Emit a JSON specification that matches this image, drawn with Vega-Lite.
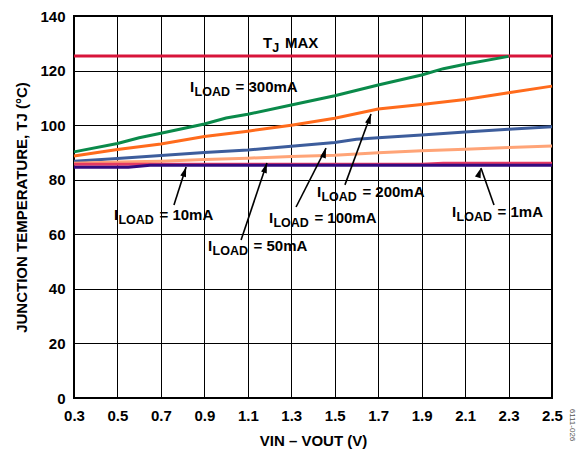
{
  "$schema": "https://vega.github.io/schema/vega-lite/v6.json",
  "width": 478,
  "height": 382,
  "autosize": {"type": "none"},
  "padding": {"left": 74, "top": 16, "right": 27, "bottom": 54},
  "background": "white",
  "config": {
    "font": "Liberation Sans",
    "view": {"stroke": "black", "strokeWidth": 2},
    "axis": {
      "labelFont": "Liberation Sans",
      "labelFontWeight": "bold",
      "labelFontSize": 15,
      "labelColor": "black",
      "titleFont": "Liberation Sans",
      "titleFontWeight": "bold",
      "titleFontSize": 15,
      "titleColor": "black",
      "ticks": false,
      "domain": false,
      "grid": true,
      "gridColor": "black",
      "gridWidth": 1,
      "gridOpacity": 1,
      "labelOverlap": false,
      "labelFlush": false
    }
  },
  "datasets": {
    "curves": [
      {"series": "TJMAX", "v": 0.3, "t": 125.3},
      {"series": "TJMAX", "v": 2.5, "t": 125.3},
      {"series": "300mA", "v": 0.3, "t": 90.2},
      {"series": "300mA", "v": 0.5, "t": 93.3},
      {"series": "300mA", "v": 0.6, "t": 95.4},
      {"series": "300mA", "v": 0.7, "t": 97.0},
      {"series": "300mA", "v": 0.9, "t": 100.4},
      {"series": "300mA", "v": 1.0, "t": 102.6},
      {"series": "300mA", "v": 1.1, "t": 104.0},
      {"series": "300mA", "v": 1.3, "t": 107.4},
      {"series": "300mA", "v": 1.5, "t": 110.8},
      {"series": "300mA", "v": 1.7, "t": 114.7},
      {"series": "300mA", "v": 1.9, "t": 118.4},
      {"series": "300mA", "v": 2.0, "t": 120.7},
      {"series": "300mA", "v": 2.1, "t": 122.3},
      {"series": "300mA", "v": 2.3, "t": 125.2},
      {"series": "200mA", "v": 0.3, "t": 88.7},
      {"series": "200mA", "v": 0.5, "t": 91.1},
      {"series": "200mA", "v": 0.7, "t": 93.1},
      {"series": "200mA", "v": 0.9, "t": 95.8},
      {"series": "200mA", "v": 1.1, "t": 97.8},
      {"series": "200mA", "v": 1.3, "t": 100.0},
      {"series": "200mA", "v": 1.5, "t": 102.5},
      {"series": "200mA", "v": 1.7, "t": 105.9},
      {"series": "200mA", "v": 1.9, "t": 107.6},
      {"series": "200mA", "v": 2.1, "t": 109.4},
      {"series": "200mA", "v": 2.3, "t": 111.9},
      {"series": "200mA", "v": 2.5, "t": 114.3},
      {"series": "100mA", "v": 0.3, "t": 86.8},
      {"series": "100mA", "v": 0.5, "t": 87.8},
      {"series": "100mA", "v": 0.7, "t": 88.9},
      {"series": "100mA", "v": 0.9, "t": 90.0},
      {"series": "100mA", "v": 1.1, "t": 90.9},
      {"series": "100mA", "v": 1.3, "t": 92.3},
      {"series": "100mA", "v": 1.5, "t": 93.6},
      {"series": "100mA", "v": 1.6, "t": 94.8},
      {"series": "100mA", "v": 1.7, "t": 95.4},
      {"series": "100mA", "v": 1.9, "t": 96.4},
      {"series": "100mA", "v": 2.1, "t": 97.5},
      {"series": "100mA", "v": 2.3, "t": 98.5},
      {"series": "100mA", "v": 2.5, "t": 99.4},
      {"series": "50mA", "v": 0.3, "t": 86.0},
      {"series": "50mA", "v": 0.5, "t": 86.5},
      {"series": "50mA", "v": 0.7, "t": 86.8},
      {"series": "50mA", "v": 0.9, "t": 87.4},
      {"series": "50mA", "v": 1.1, "t": 87.9},
      {"series": "50mA", "v": 1.3, "t": 88.5},
      {"series": "50mA", "v": 1.5, "t": 89.0},
      {"series": "50mA", "v": 1.7, "t": 89.9},
      {"series": "50mA", "v": 1.9, "t": 90.6},
      {"series": "50mA", "v": 2.1, "t": 91.2},
      {"series": "50mA", "v": 2.3, "t": 91.8},
      {"series": "50mA", "v": 2.5, "t": 92.4},
      {"series": "10mA", "v": 0.3, "t": 85.7},
      {"series": "10mA", "v": 0.7, "t": 85.7},
      {"series": "10mA", "v": 1.1, "t": 85.7},
      {"series": "10mA", "v": 1.5, "t": 85.7},
      {"series": "10mA", "v": 1.9, "t": 85.7},
      {"series": "10mA", "v": 2.0, "t": 86.0},
      {"series": "10mA", "v": 2.5, "t": 86.0},
      {"series": "1mA", "v": 0.3, "t": 84.6},
      {"series": "1mA", "v": 0.55, "t": 84.6},
      {"series": "1mA", "v": 0.65, "t": 85.3},
      {"series": "1mA", "v": 2.5, "t": 85.3}
    ],
    "labels": [
      {"v": 0.834, "t": 112.1, "rest": "= 300mA"},
      {"v": 1.418, "t": 73.7, "rest": "= 200mA"},
      {"v": 1.197, "t": 64.1, "rest": "= 100mA"},
      {"v": 0.917, "t": 53.9, "rest": "= 50mA"},
      {"v": 0.484, "t": 65.2, "rest": "= 10mA"},
      {"v": 2.040, "t": 66.3, "rest": "= 1mA"}
    ],
    "arrows": [
      {"label": "10mA", "v": 0.760, "t": 70.7, "v2": 0.816, "t2": 84.7},
      {"label": "50mA", "v": 1.069, "t": 57.9, "v2": 1.188, "t2": 86.1},
      {"label": "100mA", "v": 1.322, "t": 70.0, "v2": 1.460, "t2": 91.6},
      {"label": "200mA", "v": 1.547, "t": 78.1, "v2": 1.667, "t2": 104.1},
      {"label": "1mA", "v": 2.233, "t": 70.7, "v2": 2.173, "t2": 84.3}
    ]
  },
  "encoding": {
    "x": {
      "field": "v",
      "type": "quantitative",
      "scale": {"domain": [0.3, 2.5], "nice": false, "zero": false},
      "axis": {
        "values": [0.3, 0.5, 0.7, 0.9, 1.1, 1.3, 1.5, 1.7, 1.9, 2.1, 2.3, 2.5],
        "format": ".1f",
        "labelPadding": 10,
        "title": "VIN – VOUT (V)",
        "titlePadding": 10
      }
    },
    "y": {
      "field": "t",
      "type": "quantitative",
      "scale": {"domain": [0, 140], "nice": false},
      "axis": {
        "values": [0, 20, 40, 60, 80, 100, 120, 140],
        "labelPadding": 9,
        "title": "JUNCTION TEMPERATURE, TJ (°C)",
        "titlePadding": 10
      }
    }
  },
  "layer": [
    {
      "data": {"name": "curves"},
      "mark": {"type": "line", "strokeWidth": 3},
      "encoding": {
        "color": {
          "field": "series",
          "type": "nominal",
          "scale": {
            "domain": ["TJMAX", "300mA", "200mA", "100mA", "50mA", "10mA", "1mA"],
            "range": ["#d8143a", "#0a8a4a", "#ff6b1c", "#3d5d9c", "#ffa477", "#e43a63", "#330a80"]
          },
          "legend": null
        }
      }
    },
    {
      "data": {"name": "arrows"},
      "mark": {"type": "rule", "color": "black", "strokeWidth": 1.6},
      "encoding": {
        "x2": {"field": "v2"},
        "y2": {"field": "t2"}
      }
    },
    {
      "data": {"name": "arrows"},
      "mark": {"type": "point", "shape": "M0,0L-0.42,1.4L0.42,1.4Z", "filled": true, "color": "black", "size": 200, "opacity": 1},
      "encoding": {
        "x": {"field": "v2", "type": "quantitative"},
        "y": {"field": "t2", "type": "quantitative"},
        "angle": {
          "field": "label",
          "type": "nominal",
          "scale": {"domain": ["10mA", "50mA", "100mA", "200mA", "1mA"], "range": [17.5, 18.7, 26.9, 20.1, -19.4]},
          "legend": null
        }
      }
    },
    {
      "data": {"name": "labels"},
      "mark": {"type": "text", "text": "I", "align": "left", "baseline": "alphabetic", "fontSize": 15, "fontWeight": "bold", "color": "black"}
    },
    {
      "data": {"name": "labels"},
      "mark": {"type": "text", "text": "LOAD", "align": "left", "baseline": "alphabetic", "fontSize": 12.5, "fontWeight": "bold", "color": "black", "dx": 4.5, "dy": 4.3}
    },
    {
      "data": {"name": "labels"},
      "mark": {"type": "text", "align": "left", "baseline": "alphabetic", "fontSize": 15, "fontWeight": "bold", "color": "black", "dx": 45.5},
      "encoding": {"text": {"field": "rest"}}
    },
    {
      "data": {"values": [{"v": 1.170, "t": 128.3}]},
      "layer": [
        {"mark": {"type": "text", "text": "T", "align": "left", "baseline": "alphabetic", "fontSize": 15, "fontWeight": "bold", "color": "black"}},
        {"mark": {"type": "text", "text": "J", "align": "left", "baseline": "alphabetic", "fontSize": 12.5, "fontWeight": "bold", "color": "black", "dx": 9.3, "dy": 4.3}},
        {"mark": {"type": "text", "text": "MAX", "align": "left", "baseline": "alphabetic", "fontSize": 15, "fontWeight": "bold", "color": "black", "dx": 22}}
      ]
    },
    {
      "data": {"values": [{"v": 2.592, "t": -9.9, "fig": "6111-026"}]},
      "mark": {"type": "text", "align": "center", "baseline": "middle", "fontSize": 8, "angle": 90, "color": "#555555"},
      "encoding": {"text": {"field": "fig"}}
    }
  ]
}
